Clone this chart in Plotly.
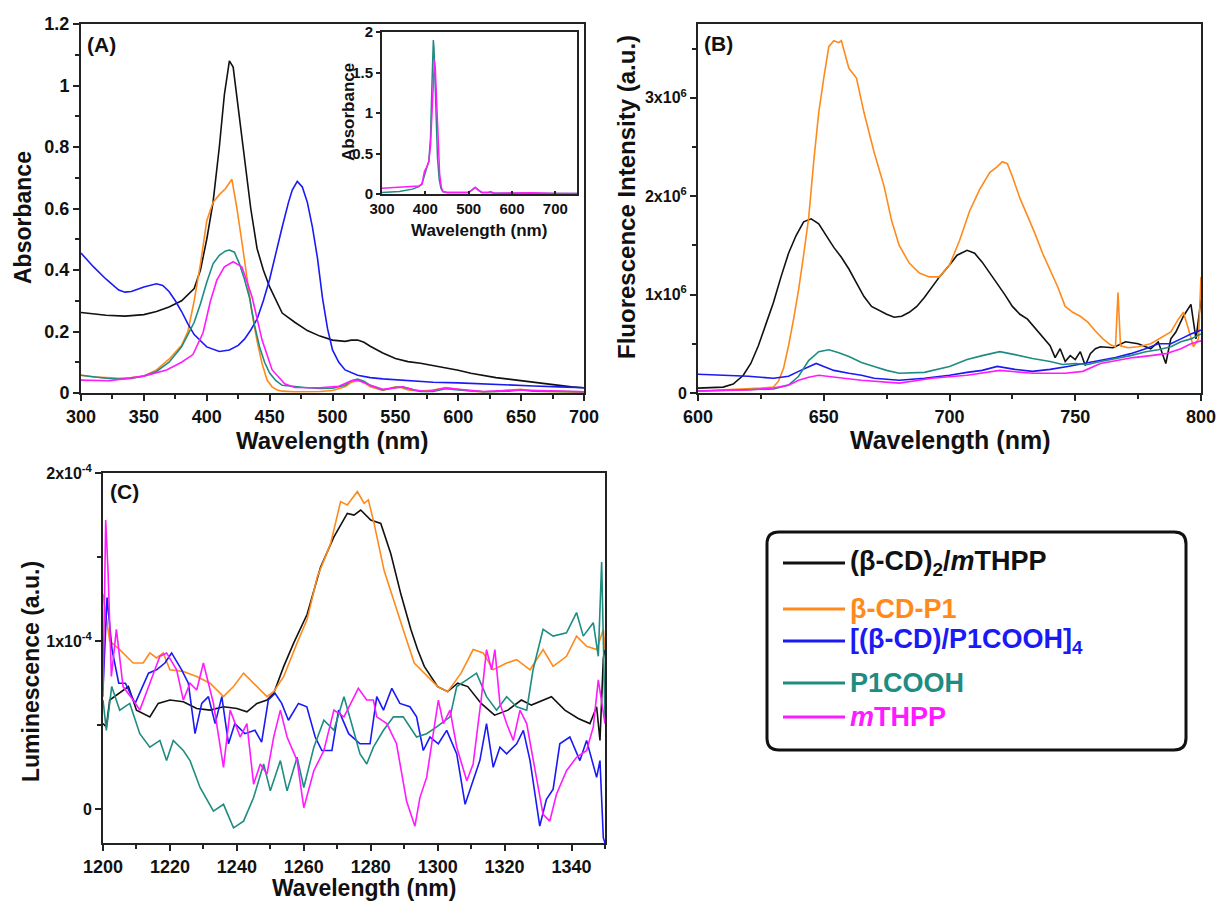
import numpy as np
import plotly.graph_objects as go

W, H = 1218, 904
FONT = "Arial, 'Liberation Sans', Helvetica, sans-serif"

COLORS = {
    "black": "#111111",
    "orange": "#FF8A1C",
    "blue": "#1A1AF5",
    "teal": "#1E8C80",
    "magenta": "#FF1AFF",
}

# ---------------- (A) UV-vis absorbance ----------------
a_black_wl = [300, 310, 320, 335, 350, 360, 370, 380, 390, 395, 400, 405, 410, 414, 418, 421, 425, 430, 435, 440,
              445, 450, 455, 460, 470, 480, 490, 500, 510, 515, 520, 525, 530, 540, 550, 560, 570, 580, 590, 600,
              610, 620, 630, 640, 650, 660, 670, 680, 690, 700]
a_black = [0.262, 0.258, 0.253, 0.250, 0.255, 0.265, 0.28, 0.30, 0.34, 0.40, 0.50, 0.62, 0.80, 0.97, 1.08, 1.06,
           0.93, 0.76, 0.60, 0.47, 0.40, 0.345, 0.30, 0.26, 0.23, 0.203, 0.185, 0.172, 0.168, 0.172, 0.172, 0.165,
           0.152, 0.13, 0.112, 0.102, 0.097, 0.09, 0.082, 0.074, 0.064, 0.056, 0.05, 0.045, 0.04, 0.034, 0.028,
           0.024, 0.02, 0.017]

a_orange_wl = [300, 310, 320, 330, 340, 350, 360, 370, 380, 385, 390, 395, 400, 405, 410, 415, 420, 424, 428, 432,
               436, 440, 444, 448, 452, 456, 460, 470, 480, 490, 500, 510, 515, 520, 525, 530, 540, 545, 550, 555,
               560, 570, 580, 590, 600, 610, 620, 630, 640, 650, 660, 680, 700]
a_orange = [0.058, 0.052, 0.05, 0.048, 0.05, 0.055, 0.075, 0.11, 0.155, 0.2, 0.30, 0.42, 0.56, 0.62, 0.645, 0.665,
            0.695, 0.60, 0.49, 0.367, 0.26, 0.17, 0.095, 0.042, 0.02, 0.01, 0.006, 0.004, 0.004, 0.005, 0.008, 0.02,
            0.035, 0.04, 0.035, 0.02, 0.008, 0.015, 0.02, 0.017, 0.01, 0.006, 0.01, 0.018, 0.012, 0.006, 0.004,
            0.005, 0.01, 0.012, 0.006, 0.004, 0.003]

a_blue_wl = [300, 310, 320, 330, 335, 340, 350, 360, 365, 370, 375, 380, 385, 390, 400, 410, 418, 425, 430, 435,
             440, 445, 450, 455, 460, 465, 468, 472, 476, 480, 484, 488, 492, 496, 500, 505, 510, 520, 530, 540,
             560, 580, 600, 620, 640, 660, 680, 700]
a_blue = [0.455, 0.41, 0.37, 0.335, 0.328, 0.33, 0.345, 0.355, 0.35, 0.33, 0.30, 0.265, 0.225, 0.19, 0.15, 0.135,
          0.14, 0.155, 0.175, 0.205, 0.24, 0.30, 0.37, 0.46, 0.54, 0.62, 0.66, 0.688, 0.67, 0.62, 0.54, 0.44, 0.31,
          0.21, 0.14, 0.10, 0.075, 0.058, 0.05, 0.046, 0.04, 0.035, 0.033, 0.029, 0.026, 0.023, 0.02, 0.017]

a_teal_wl = [300, 310, 320, 330, 340, 350, 360, 370, 380, 390, 395, 400, 405, 410, 415, 418, 422, 426, 430, 434,
             438, 442, 446, 450, 455, 460, 470, 480, 490, 500, 510, 515, 520, 525, 530, 540, 550, 555, 560, 570,
             580, 590, 600, 620, 640, 650, 660, 680, 700]
a_teal = [0.058, 0.052, 0.048, 0.045, 0.047, 0.055, 0.07, 0.10, 0.15, 0.23, 0.29, 0.36, 0.42, 0.448, 0.462, 0.465,
          0.458, 0.42, 0.37, 0.31, 0.22, 0.15, 0.10, 0.065, 0.04, 0.025, 0.02, 0.017, 0.015, 0.016, 0.025, 0.04,
          0.045, 0.038, 0.025, 0.01, 0.018, 0.02, 0.015, 0.005, 0.005, 0.014, 0.01, 0.004, 0.006, 0.01, 0.006,
          0.004, 0.004]

a_magenta_wl = [300, 323, 350, 368, 380, 389, 397, 403, 408, 414, 421, 428, 436, 444, 452, 462, 470, 490, 505, 515,
                520, 530, 540, 550, 556, 565, 575, 590, 600, 620, 650, 700]
a_magenta = [0.042, 0.04, 0.055, 0.075, 0.10, 0.125, 0.195, 0.30, 0.367, 0.41, 0.427, 0.41, 0.313, 0.172, 0.075,
             0.03, 0.018, 0.017, 0.022, 0.04, 0.042, 0.025, 0.012, 0.018, 0.02, 0.01, 0.005, 0.016, 0.012, 0.005,
             0.01, 0.004]

# inset: full-scale absorbance
in_teal_wl = [300, 340, 370, 385, 392, 398, 403, 408, 412, 415, 417, 418.5, 420, 422, 425, 428, 432, 436, 440, 450,
              480, 500, 508, 515, 522, 530, 545, 560, 600, 650, 700, 750]
in_teal = [0.02, 0.03, 0.06, 0.09, 0.12, 0.25, 0.32, 0.40, 0.70, 1.30, 1.75, 1.90, 1.80, 1.40, 0.85, 0.45, 0.18,
           0.07, 0.03, 0.02, 0.02, 0.02, 0.05, 0.08, 0.05, 0.02, 0.02, 0.01, 0.01, 0.01, 0.005, 0.005]
in_magenta_wl = [300, 340, 370, 385, 392, 398, 403, 408, 412, 416, 419, 421, 423, 426, 429, 433, 437, 441, 450, 480,
                 500, 508, 515, 522, 530, 545, 550, 560, 590, 645, 700, 750]
in_magenta = [0.07, 0.08, 0.09, 0.10, 0.12, 0.28, 0.33, 0.40, 0.60, 1.10, 1.55, 1.65, 1.55, 1.10, 0.60, 0.25, 0.08,
              0.03, 0.02, 0.02, 0.02, 0.05, 0.08, 0.05, 0.02, 0.02, 0.03, 0.01, 0.01, 0.015, 0.005, 0.005]

# ---------------- (B) fluorescence, in units of 1e6 ----------------
b_orange_wl = [600, 610, 620, 625, 630, 632, 634, 636, 638, 640, 642, 644, 646, 648, 650, 652, 654, 656, 657, 660,
               663, 666, 670, 674, 677, 680, 684, 688, 692, 696, 700, 704, 708, 712, 716, 719, 721, 723, 725, 728,
               731, 734, 737, 740, 743, 746, 749, 752, 755, 758, 761, 764, 766, 767, 768, 771, 775, 780, 784, 788,
               791, 793, 795, 797, 799, 800]
b_orange = [0.02, 0.03, 0.04, 0.05, 0.06, 0.12, 0.25, 0.48, 0.75, 1.05, 1.40, 1.78, 2.35, 2.85, 3.20, 3.52, 3.58,
            3.56, 3.58, 3.30, 3.20, 2.85, 2.45, 2.10, 1.75, 1.50, 1.32, 1.22, 1.18, 1.18, 1.30, 1.55, 1.85, 2.07,
            2.24, 2.30, 2.35, 2.33, 2.20, 1.98, 1.80, 1.62, 1.42, 1.25, 1.08, 0.88, 0.82, 0.78, 0.72, 0.63, 0.55,
            0.49, 0.47, 1.02, 0.48, 0.46, 0.47, 0.50, 0.56, 0.62, 0.75, 0.82, 0.65, 0.47, 0.55, 1.18]

b_black_wl = [600, 605, 610, 614, 618, 621, 624, 627, 630, 633, 636, 639, 642, 645, 648, 651, 654, 657, 660, 663,
              666, 669, 672, 675, 678, 681, 684, 687, 690, 693, 696, 700, 703, 707, 710, 713, 716, 719, 722, 725,
              728, 731, 734, 737, 740, 742, 744, 746, 748, 750, 752, 754, 756, 758, 760, 765, 770, 775, 780, 783,
              786, 788, 790, 793, 796, 798, 800]
b_black = [0.05, 0.055, 0.06, 0.09, 0.18, 0.30, 0.48, 0.70, 0.92, 1.18, 1.42, 1.60, 1.74, 1.77, 1.72, 1.60, 1.48,
           1.38, 1.26, 1.12, 0.98, 0.88, 0.84, 0.80, 0.77, 0.78, 0.82, 0.88, 0.97, 1.08, 1.18, 1.30, 1.40, 1.45,
           1.42, 1.33, 1.22, 1.12, 1.00, 0.88, 0.80, 0.75, 0.66, 0.58, 0.48, 0.36, 0.45, 0.32, 0.38, 0.34, 0.42,
           0.28, 0.40, 0.45, 0.47, 0.46, 0.52, 0.50, 0.45, 0.52, 0.30, 0.55, 0.62, 0.78, 0.90, 0.55, 0.95]

b_blue_wl = [600, 610, 620, 630, 636, 640, 644, 647, 650, 654, 660, 665, 670, 675, 680, 690, 700, 707, 713, 719,
             726, 733, 740, 747, 753, 760, 766, 772, 778, 783, 788, 792, 796, 800]
b_blue = [0.19, 0.18, 0.17, 0.15, 0.17, 0.22, 0.27, 0.30, 0.27, 0.23, 0.20, 0.18, 0.15, 0.14, 0.13, 0.15, 0.18,
          0.21, 0.23, 0.27, 0.24, 0.22, 0.24, 0.27, 0.30, 0.33, 0.36, 0.40, 0.45, 0.50, 0.50, 0.55, 0.60, 0.64]

b_teal_wl = [600, 620, 630, 636, 640, 644, 648, 652, 656, 660, 665, 670, 675, 680, 690, 700, 707, 713, 720, 726,
             733, 740, 745, 750, 755, 760, 766, 772, 778, 783, 788, 792, 796, 800]
b_teal = [0.02, 0.03, 0.04, 0.08, 0.17, 0.33, 0.42, 0.44, 0.41, 0.37, 0.31, 0.27, 0.23, 0.20, 0.21, 0.27, 0.34,
          0.38, 0.42, 0.39, 0.35, 0.32, 0.29, 0.30, 0.29, 0.32, 0.35, 0.38, 0.42, 0.44, 0.47, 0.52, 0.55, 0.60]

b_magenta_wl = [600, 620, 630, 636, 640, 644, 648, 652, 658, 665, 670, 680, 693, 707, 720, 733, 746, 753, 760, 766,
                773, 780, 786, 792, 796, 800]
b_magenta = [0.02, 0.03, 0.05, 0.08, 0.13, 0.16, 0.18, 0.17, 0.15, 0.13, 0.12, 0.10, 0.15, 0.18, 0.23, 0.20, 0.20,
             0.22, 0.30, 0.33, 0.36, 0.38, 0.40, 0.45, 0.50, 0.53]

# ---------------- (C) NIR luminescence, in units of 1e-4 ----------------
c_black_wl = [1200, 1201, 1202, 1205, 1207.6, 1210, 1214, 1216.5, 1220, 1224, 1228, 1232, 1236, 1240, 1243, 1246,
              1249, 1251, 1254, 1257, 1261, 1265, 1269, 1273, 1275, 1277, 1280, 1283, 1286, 1289, 1292, 1294, 1296,
              1300, 1303, 1306, 1309, 1313, 1317, 1321, 1325, 1328, 1334, 1338, 1342, 1345.5, 1347.5, 1348.5,
              1349.5, 1350]
c_black = [0.51, 0.49, 0.65, 0.69, 0.73, 0.59, 0.55, 0.63, 0.65, 0.64, 0.60, 0.59, 0.61, 0.60, 0.58, 0.63, 0.65,
           0.69, 0.85, 0.99, 1.16, 1.44, 1.62, 1.76, 1.75, 1.78, 1.72, 1.70, 1.52, 1.28, 1.07, 0.95, 0.85, 0.73,
           0.70, 0.75, 0.73, 0.63, 0.56, 0.59, 0.65, 0.62, 0.67, 0.59, 0.54, 0.51, 0.61, 0.41, 0.90, 0.95]

c_orange_wl = [1200, 1202, 1205, 1209, 1212, 1214, 1216, 1218, 1220, 1224, 1228, 1232, 1236, 1239, 1242, 1245,
               1249, 1251, 1254, 1258, 1261, 1264, 1268, 1271, 1273, 1276, 1278, 1279.3, 1281, 1284, 1287, 1290,
               1293, 1297, 1300, 1303, 1307, 1310.6, 1313.6, 1316.6, 1320.6, 1323.6, 1327.6, 1331.5, 1334.5,
               1338.5, 1341.5, 1344.5, 1347.5, 1349.5, 1350]
c_orange = [1.28, 1.00, 0.95, 0.87, 0.87, 0.93, 0.90, 0.93, 0.83, 0.82, 0.79, 0.75, 0.67, 0.73, 0.81, 0.75, 0.67,
            0.70, 0.79, 0.99, 1.13, 1.38, 1.58, 1.83, 1.81, 1.89, 1.82, 1.84, 1.70, 1.42, 1.23, 1.05, 0.87, 0.79,
            0.73, 0.70, 0.81, 0.95, 0.93, 0.83, 0.87, 0.89, 0.83, 0.95, 0.85, 0.91, 1.03, 0.97, 0.95, 1.07, 0.95]

c_blue_wl = [1200, 1201.2, 1202.7, 1204.7, 1206.7, 1209.6, 1213.6, 1216, 1218.5, 1220.5, 1223.5, 1225.5, 1227.5,
             1229.5, 1231.5, 1233.5, 1235.5, 1237.5, 1239.4, 1242.4, 1245.4, 1247.4, 1249.4, 1251.4, 1253.4,
             1255.4, 1258.4, 1260.9, 1263.4, 1265.4, 1268.4, 1270.4, 1273.4, 1276.8, 1279.8, 1281.8, 1283.8,
             1286.3, 1288.7, 1291.7, 1293.7, 1295.7, 1297.7, 1300.2, 1302.7, 1305.7, 1308.2, 1310.2, 1312.6,
             1314.6, 1316.6, 1318.6, 1320.6, 1323.6, 1325.6, 1327.6, 1330.5, 1332.5, 1334.5, 1336.5, 1339.5,
             1342.5, 1344.5, 1347.5, 1348.5, 1349.5, 1350]
c_blue = [0.71, 1.26, 0.95, 0.75, 0.75, 0.63, 0.81, 0.83, 0.87, 0.93, 0.83, 0.75, 0.45, 0.63, 0.67, 0.51, 0.67,
          0.39, 0.51, 0.45, 0.47, 0.40, 0.65, 0.69, 0.63, 0.53, 0.63, 0.61, 0.43, 0.35, 0.35, 0.59, 0.45, 0.39,
          0.39, 0.67, 0.59, 0.72, 0.63, 0.61, 0.55, 0.35, 0.43, 0.39, 0.47, 0.33, 0.03, 0.15, 0.29, 0.51, 0.25,
          0.37, 0.33, 0.39, 0.47, 0.29, -0.10, 0.06, 0.12, 0.39, 0.43, 0.29, 0.41, 0.19, 0.29, -0.17, -0.20]

c_teal_wl = [1200, 1201, 1202.6, 1205, 1208, 1211, 1214, 1217, 1219, 1221, 1224, 1226, 1229, 1233, 1236, 1239,
             1242, 1245, 1248, 1250, 1253, 1255, 1258, 1260, 1263, 1266, 1269, 1272, 1274, 1276.8, 1278.8, 1280.8,
             1283.8, 1286.8, 1289.7, 1293.7, 1296.7, 1299.7, 1303.7, 1305.7, 1308.7, 1311.6, 1314.6, 1317.6,
             1320.6, 1323.6, 1326.6, 1328.5, 1331.5, 1334.5, 1338.5, 1341.5, 1343.5, 1346.5, 1348, 1349, 1350]
c_teal = [0.65, 0.47, 0.73, 0.59, 0.63, 0.45, 0.37, 0.41, 0.29, 0.41, 0.35, 0.29, 0.13, -0.01, 0.03, -0.11, -0.07,
          0.07, 0.27, 0.11, 0.29, 0.11, 0.31, 0.13, 0.37, 0.53, 0.47, 0.67, 0.53, 0.33, 0.27, 0.37, 0.47, 0.55,
          0.55, 0.43, 0.45, 0.49, 0.55, 0.73, 0.77, 0.81, 0.67, 0.59, 0.67, 0.61, 0.59, 0.83, 1.07, 1.03, 1.05,
          1.17, 1.03, 1.11, 0.91, 1.47, 0.55]

c_magenta_wl = [1200, 1200.8, 1201.5, 1202.5, 1204, 1206, 1209, 1211, 1214, 1217, 1219, 1222, 1224, 1226, 1228,
                1230, 1233, 1236, 1238, 1241, 1243, 1245, 1247, 1249, 1251, 1253, 1255, 1258, 1260, 1263, 1266,
                1269, 1272, 1276.3, 1278.8, 1280.8, 1281.8, 1284.8, 1287.7, 1290.7, 1293.2, 1294.7, 1296.7,
                1298.7, 1300.2, 1301.7, 1303.7, 1305.7, 1308.7, 1310.6, 1313.1, 1314.6, 1316.1, 1317.1, 1318.6,
                1320.6, 1322.6, 1324.6, 1326.6, 1329.5, 1331.5, 1333.5, 1335.5, 1338.5, 1341.5, 1344.5, 1346.5,
                1348, 1350]
c_magenta = [0.67, 1.72, 1.42, 0.79, 1.07, 0.73, 0.65, 0.59, 0.75, 0.91, 0.93, 0.83, 0.65, 0.75, 0.71, 0.87, 0.63,
             0.25, 0.59, 0.43, 0.51, 0.15, 0.27, 0.21, 0.43, 0.59, 0.43, 0.29, 0.01, 0.23, 0.35, 0.59, 0.55, 0.72,
             0.65, 0.65, 0.55, 0.51, 0.39, 0.05, -0.10, 0.07, 0.19, 0.47, 0.65, 0.51, 0.59, 0.37, 0.17, 0.27, 0.67,
             0.95, 0.83, 0.95, 0.63, 0.51, 0.41, 0.59, 0.51, 0.19, -0.03, -0.07, 0.09, 0.23, 0.31, 0.35, 0.49,
             0.77, 0.51]

series_names = ["(β-CD)<sub>2</sub>/<i>m</i>THPP", "β-CD-P1", "[(β-CD)/P1COOH]<sub>4</sub>", "P1COOH",
                "<i>m</i>THPP"]
series_keys = ["black", "orange", "blue", "teal", "magenta"]

fig = go.Figure()


def add(x, y, key, xa, ya, scale=1.0, width=1.6):
    fig.add_trace(go.Scatter(x=x, y=np.asarray(y) * scale, mode="lines", xaxis=xa, yaxis=ya,
                             line=dict(color=COLORS[key], width=width), showlegend=False,
                             hoverinfo="skip"))


panel_a = {"black": (a_black_wl, a_black), "orange": (a_orange_wl, a_orange), "blue": (a_blue_wl, a_blue),
           "teal": (a_teal_wl, a_teal), "magenta": (a_magenta_wl, a_magenta)}
panel_b = {"black": (b_black_wl, b_black), "orange": (b_orange_wl, b_orange), "blue": (b_blue_wl, b_blue),
           "teal": (b_teal_wl, b_teal), "magenta": (b_magenta_wl, b_magenta)}
panel_c = {"black": (c_black_wl, c_black), "orange": (c_orange_wl, c_orange), "blue": (c_blue_wl, c_blue),
           "teal": (c_teal_wl, c_teal), "magenta": (c_magenta_wl, c_magenta)}

for k in series_keys:
    add(*panel_a[k], k, "x", "y")
for k in series_keys:
    add(*panel_b[k], k, "x2", "y2", scale=1e6)
for k in series_keys:
    add(*panel_c[k], k, "x3", "y3", scale=1e-4)
add(in_teal_wl, in_teal, "teal", "x4", "y4", width=1.5)
add(in_magenta_wl, in_magenta, "magenta", "x4", "y4", width=1.5)


def dom_x(a, b):
    return [a / W, b / W]


def dom_y(top, bottom):
    return [1 - bottom / H, 1 - top / H]


TICKFONT = dict(family=FONT, size=18, color="#111", weight="bold")
AX_COMMON = dict(showline=True, linecolor="#222", linewidth=2, mirror=True, ticks="outside", ticklen=6,
                 tickwidth=2, tickcolor="#222", showgrid=False, zeroline=False, tickfont=TICKFONT,
                 automargin=False)


def axis(domain, rng, anchor, minor_dtick=None, **kw):
    d = dict(AX_COMMON)
    d.update(domain=domain, range=rng, anchor=anchor)
    if minor_dtick is not None:
        d["minor"] = dict(dtick=minor_dtick, ticks="outside", ticklen=4, tickwidth=1.5, tickcolor="#222",
                          showgrid=False)
    d.update(kw)
    return d


SMALLFONT = dict(family=FONT, size=16, color="#111", weight="bold")
INSETFONT = dict(family=FONT, size=15, color="#111", weight="bold")

fig.update_layout(
    width=W, height=H, margin=dict(l=0, r=0, t=0, b=0, pad=0, autoexpand=False),
    paper_bgcolor="white", plot_bgcolor="white",
    xaxis=axis(dom_x(81, 584), [300, 700], "y", minor_dtick=25, tick0=300, dtick=50),
    yaxis=axis(dom_y(24, 393), [0, 1.2], "x", minor_dtick=0.1,
               tickvals=[0, 0.2, 0.4, 0.6, 0.8, 1.0, 1.2], ticktext=["0", "0.2", "0.4", "0.6", "0.8", "1", "1.2"]),
    xaxis2=axis(dom_x(698, 1201), [600, 800], "y2", minor_dtick=25, tick0=600, dtick=50),
    yaxis2=axis(dom_y(24, 393), [0, 3.75e6], "x2", minor_dtick=0.5e6,
                tickvals=[0, 1e6, 2e6, 3e6],
                ticktext=["0", "1x10<sup>6</sup>", "2x10<sup>6</sup>", "3x10<sup>6</sup>"],
                tickfont=SMALLFONT),
    xaxis3=axis(dom_x(103, 605), [1200, 1350], "y3", minor_dtick=10, tick0=1200, dtick=20),
    yaxis3=axis(dom_y(473, 843), [-0.2e-4, 2e-4], "x3", minor_dtick=0.5e-4,
                tickvals=[0, 1e-4, 2e-4],
                ticktext=["0", "1x10<sup>-4</sup>", "2x10<sup>-4</sup>"],
                tickfont=SMALLFONT),
    xaxis4=axis(dom_x(382, 577), [300, 750], "y4", tick0=300, dtick=100, ticks="inside", ticklen=3,
                tickfont=INSETFONT),
    yaxis4=axis(dom_y(32, 194), [0, 2], "x4", ticklen=4,
                tickvals=[0, 0.5, 1, 1.5, 2], ticktext=["0", "0.5", "1", "1.5", "2"],
                tickfont=INSETFONT),
)


def px(x, y):
    return x / W, 1 - y / H


annotations = []


def label(text, x, y, size, angle=0, color="#111", xanchor="center", yanchor="middle"):
    ax, ay = px(x, y)
    annotations.append(dict(text=text, x=ax, y=ay, xref="paper", yref="paper", showarrow=False,
                            textangle=angle, xanchor=xanchor, yanchor=yanchor,
                            font=dict(family=FONT, size=size, color=color, weight="bold")))


# axis titles
label("Absorbance", 23, 218, 23, angle=-90)
label("Wavelength (nm)", 332, 440, 24)
label("Fluorescence Intensity (a.u.)", 626, 197, 24, angle=-90)
label("Wavelength (nm)", 950, 440, 25)
label("Luminescence (a.u.)", 31, 672, 23, angle=-90)
label("Wavelength (nm)", 364, 888, 23)
label("Absorbance", 349, 112, 17, angle=-90)
label("Wavelength (nm)", 479, 230, 17)

# panel tags
label("(A)", 85, 45, 21, xanchor="left")
label("(B)", 702, 44, 21, xanchor="left")
label("(C)", 108, 492, 21, xanchor="left")

# legend entries
legend_rows = [563, 609, 641, 683, 717]
shapes = []
for key, name, yrow in zip(series_keys, series_names, legend_rows):
    x0, y0 = px(783, yrow)
    x1, _ = px(845, yrow)
    shapes.append(dict(type="line", xref="paper", yref="paper", x0=x0, x1=x1, y0=y0, y1=y0,
                       line=dict(color=COLORS[key], width=3)))
    label(name, 848, yrow, 27, color=COLORS[key], xanchor="left")

# rounded legend frame
bx0, by0, bx1, by1, r = 767, 532, 1186, 750, 12


def P(x, y):
    a, b = px(x, y)
    return f"{a:.5f},{b:.5f}"


path = (f"M {P(bx0 + r, by0)} L {P(bx1 - r, by0)} Q {P(bx1, by0)} {P(bx1, by0 + r)} "
        f"L {P(bx1, by1 - r)} Q {P(bx1, by1)} {P(bx1 - r, by1)} "
        f"L {P(bx0 + r, by1)} Q {P(bx0, by1)} {P(bx0, by1 - r)} "
        f"L {P(bx0, by0 + r)} Q {P(bx0, by0)} {P(bx0 + r, by0)} Z")
shapes.append(dict(type="path", xref="paper", yref="paper", path=path,
                   line=dict(color="#111", width=3), fillcolor="rgba(0,0,0,0)"))

fig.update_layout(annotations=annotations, shapes=shapes)
fig.write_html("out.html")
